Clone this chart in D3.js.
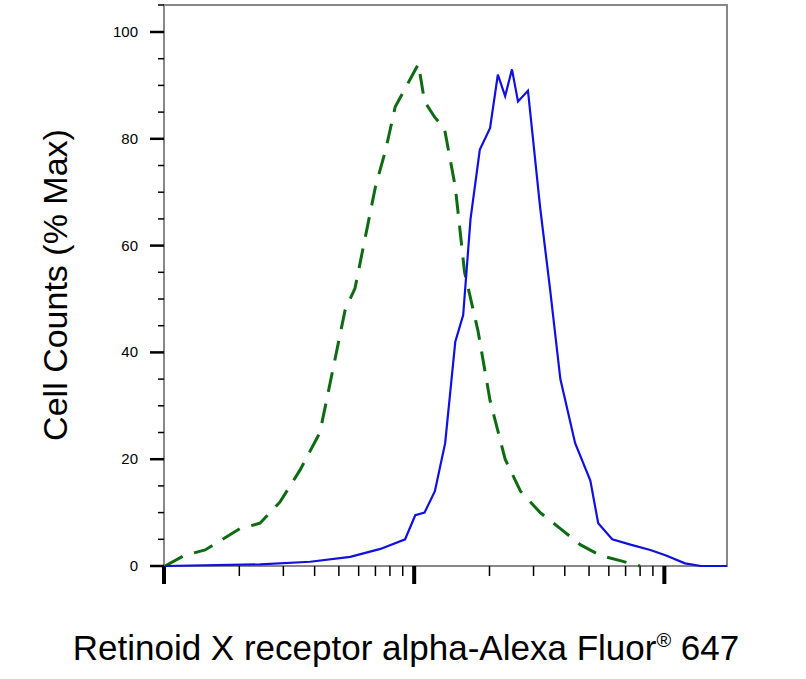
<!DOCTYPE html>
<html><head><meta charset="utf-8">
<script src="https://cdn.jsdelivr.net/npm/d3@7"></script>
<style>body{margin:0;background:#fff}text{font-family:"Liberation Sans",Arial,sans-serif}</style>
</head><body><svg id="c" width="806" height="679"></svg>
<script>
// isotype control (green dashed)
var isoX = [1.01,1.21,1.46,2.01,2.42,2.91,3.5,4.2,5.3,5.8,7.0,7.7,8.4,9.6,10.4,11.0,12.1,13.2,14.6,15.9,18.0,20.1,23.1,26.6,31.9,38.4,46.1,55.4,66.6,80];
var isoY = [0,2,3,7,8,12,18,25,48,52,71,78,86,91,94,87,84,82,71,55,44,31,20,14,10,7,4,2,1,0];
// stained sample (blue)
var rxrX = [1.01,2.42,3.84,5.55,7.33,9.2,10.1,11.0,12.1,13.3,14.6,15.7,16.8,18.3,20.1,21.6,23.1,24.6,26.0,28.5,31.9,34.9,38.4,44.0,50.6,54.4,61.9,73.2,87.9,101,121,140,178];
var rxrY = [0,0.3,0.8,1.7,3.2,5,9.5,10,14,23,42,47,65,78,82,92,88,93,87,89,67,52,35,23,16,8,5,4,3,2,0.5,0,0];
var yTicks = [0,20,40,60,80,100];

var svg = d3.select("#c");
var x = d3.scaleLog().domain([1, 178]).range([164, 727]);
var y = d3.scaleLinear().domain([0, 100]).range([566, 32]);

// frame
svg.append("rect").attr("x",164).attr("y",5).attr("width",563).attr("height",561)
  .attr("fill","none").attr("stroke","#888").attr("stroke-width",2);

// y ticks
d3.range(0, 101, 5).forEach(function(v){
  var major = v % 20 == 0;
  svg.append("line").attr("x1", major ? 150 : 158).attr("x2",164)
    .attr("y1",y(v)).attr("y2",y(v)).attr("stroke","#000").attr("stroke-width", major ? 2.5 : 1.5);
});
svg.append("line").attr("x1",158).attr("x2",164).attr("y1",5).attr("y2",5).attr("stroke","#000").attr("stroke-width",1.5);
svg.selectAll(".yl").data(yTicks).enter().append("text")
  .attr("x",138).attr("y",function(d){return y(d)+5;}).attr("text-anchor","end")
  .attr("font-size",15).text(function(d){return d;});

// x ticks (log decades, no labels)
[1,10,100].forEach(function(dec){
  for(var m=1;m<10;m++){
    var v = dec*m;
    if(v > 178) break;
    var major = m == 1;
    svg.append("line").attr("x1",x(v)).attr("x2",x(v)).attr("y1",566)
      .attr("y2", major ? 584 : 576).attr("stroke","#000").attr("stroke-width", major ? 4 : 1.5);
  }
});

var line = d3.line().x(function(d){return x(d[0]);}).y(function(d){return y(d[1]);});
svg.append("path").datum(d3.zip(isoX, isoY)).attr("d", line).attr("fill","none")
  .attr("stroke","#0d6b12").attr("stroke-width",3).attr("stroke-dasharray","20,12");
svg.append("path").datum(d3.zip(rxrX, rxrY)).attr("d", line).attr("fill","none")
  .attr("stroke","#1010e0").attr("stroke-width",2.2);

svg.append("text").attr("transform","translate(67,285) rotate(-90)").attr("text-anchor","middle")
  .attr("font-size",34).text("Cell Counts (% Max)");
var xl = svg.append("text").attr("x",406).attr("y",660).attr("text-anchor","middle").attr("font-size",35);
xl.append("tspan").text("Retinoid X receptor alpha-Alexa Fluor");
xl.append("tspan").attr("font-size",20).attr("dy",-13).text("®");
xl.append("tspan").attr("dy",13).text(" 647");
</script></body></html>
